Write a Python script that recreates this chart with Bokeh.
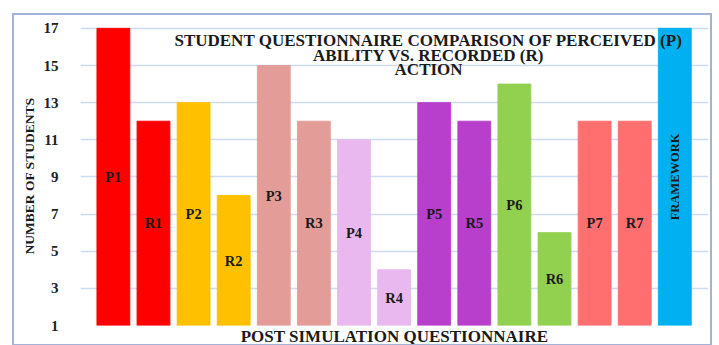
import math
from bokeh.plotting import figure
from bokeh.models import ColumnDataSource, Range1d, FixedTicker, Label
from bokeh.core.properties import value
from bokeh.embed import file_html
from bokeh.resources import INLINE

# ---- data ----
labels = ["P1", "R1", "P2", "R2", "P3", "R3", "P4", "R4", "P5", "R5",
          "P6", "R6", "P7", "R7", "FRAMEWORK"]
students = [17, 12, 13, 8, 15, 12, 11, 4, 13, 12, 14, 6, 12, 12, 17]
y_ticks = [1, 3, 5, 7, 9, 11, 13, 15, 17]
title_lines = ["STUDENT QUESTIONNAIRE COMPARISON OF PERCEIVED (P)",
               "ABILITY VS. RECORDED (R)",
               "ACTION"]
x_title = "POST SIMULATION QUESTIONNAIRE"
y_title = "NUMBER OF STUDENTS"

# ---- styles ----
bar_colors = ["#FF0000", "#FF0000", "#FFC000", "#FFC000", "#E39C98", "#E39C98",
              "#E9B8EF", "#E9B8EF", "#B73FCB", "#B73FCB", "#92D050", "#92D050",
              "#FF6F6F", "#FF6F6F", "#00B0F0"]
SERIF = "Liberation Serif"
BASE = 1

xpos = list(range(1, len(labels) + 1))
mids = [(BASE + v) / 2 for v in students]
angles = [math.pi / 2 if l == "FRAMEWORK" else 0 for l in labels]
fsize = ["12.5px" if l == "FRAMEWORK" else "14.5px" for l in labels]

src = ColumnDataSource(dict(x=xpos, top=students, bottom=[BASE] * len(labels),
                            color=bar_colors, lab=labels, mid=mids,
                            ang=angles, fs=fsize))

p = figure(width=700, height=333, output_backend="svg", toolbar_location=None,
           x_range=Range1d(0.18, 15.84), y_range=Range1d(1, 17.1),
           min_border_left=66, min_border_right=6, min_border_top=11,
           min_border_bottom=22)
p.margin = (13, 0, 0, 12)
p.styles = {"border": "2px solid #A3B2D6"}
p.outline_line_color = None
p.background_fill_color = "white"
p.border_fill_color = "white"

p.vbar(x="x", top="top", bottom="bottom", width=0.82, source=src,
       fill_color="color", line_color="color", line_alpha=0.9)
p.text(x="x", y="mid", text="lab", angle="ang", source=src,
       text_align="center", text_baseline="middle",
       text_font=value(SERIF), text_font_style="bold",
       text_font_size="fs", text_color="#1A1A1A")

# grid
p.xgrid.visible = False
p.ygrid.ticker = FixedTicker(ticks=y_ticks)
p.ygrid.grid_line_color = "#CCDCF1"
p.ygrid.grid_line_width = 1.5

# y axis
p.yaxis.ticker = FixedTicker(ticks=y_ticks)
p.yaxis.axis_line_color = None
p.yaxis.major_tick_line_color = None
p.yaxis.minor_tick_line_color = None
p.yaxis.major_label_text_font = SERIF
p.yaxis.major_label_text_font_style = "bold"
p.yaxis.major_label_text_font_size = "15px"
p.yaxis.major_label_text_color = "#222222"
p.yaxis.major_label_standoff = 16
p.yaxis.axis_label = y_title
p.yaxis.axis_label_text_font = SERIF
p.yaxis.axis_label_text_font_style = "bold"
p.yaxis.axis_label_text_font_size = "13.5px"
p.yaxis.axis_label_text_color = "#1A1A1A"
p.yaxis.axis_label_standoff = 4

# x axis: only its title is shown
p.xaxis.ticker = FixedTicker(ticks=[])
p.xaxis.axis_line_color = None
p.xaxis.major_tick_line_color = None
p.xaxis.minor_tick_line_color = None
p.xaxis.major_tick_out = 0
p.xaxis.major_label_standoff = 0
p.xaxis.axis_label = x_title
p.xaxis.axis_label_text_font = SERIF
p.xaxis.axis_label_text_font_style = "bold"
p.xaxis.axis_label_text_font_size = "17px"
p.xaxis.axis_label_text_color = "#1A1A1A"
p.xaxis.axis_label_standoff = 1

# in-plot title (three centred lines)
for txt, yy in zip(title_lines, [16.36, 15.52, 14.76]):
    p.add_layout(Label(x=8.86, y=yy, text=txt, text_align="center",
                       text_baseline="middle", text_font=SERIF,
                       text_font_style="bold", text_font_size="17px",
                       text_color="#1A1A1A"))

open("out.html", "w").write(file_html(p, INLINE))
